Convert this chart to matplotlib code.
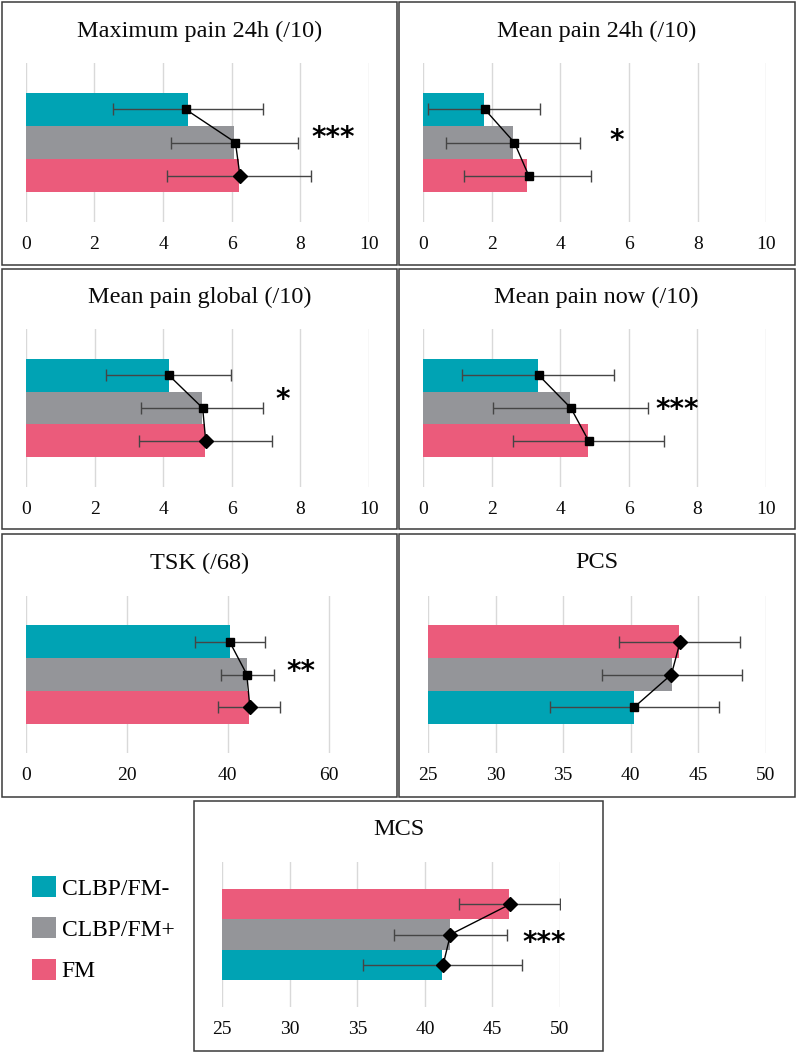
import matplotlib
matplotlib.use("Agg")
import matplotlib.pyplot as plt
from matplotlib.patches import Rectangle, Patch

plt.rcParams['font.family'] = ['Liberation Serif', 'DejaVu Serif']

W, H = 797, 1054

groups = ['CLBP/FM-', 'CLBP/FM+', 'FM']
colors = ['#00A3B4', '#949599', '#EB5B7B']

titles = ['Maximum pain 24h (/10)', 'Mean pain 24h (/10)', 'Mean pain global (/10)',
          'Mean pain now (/10)', 'TSK (/68)', 'PCS', 'MCS']

# group means (bars), in order CLBP/FM-, CLBP/FM+, FM
max_pain_24h = [4.72, 6.08, 6.22]
mean_pain_24h = [1.78, 2.63, 3.04]
mean_pain_global = [4.16, 5.13, 5.22]
mean_pain_now = [3.35, 4.30, 4.82]
tsk = [40.5, 43.9, 44.2]
pcs = [40.25, 43.05, 43.6]
mcs = [41.30, 41.89, 46.26]
bar_means = [max_pain_24h, mean_pain_24h, mean_pain_global, mean_pain_now, tsk, pcs, mcs]

# line-series points
point_means = [[4.66, 6.11, 6.24], [1.80, 2.66, 3.08], [4.16, 5.15, 5.24],
               [3.37, 4.31, 4.83], [40.4, 43.8, 44.4], [40.25, 43.0, 43.65],
               [41.35, 41.89, 46.30]]

# standard deviations
sds = [[2.18, 1.84, 2.10], [1.62, 1.95, 1.85], [1.83, 1.77, 1.94],
       [2.22, 2.27, 2.21], [6.95, 5.2, 6.2], [6.25, 5.2, 4.5], [5.9, 4.2, 3.76]]

markers = [['s', 's', 'D'], ['s', 's', 's'], ['s', 's', 'D'], ['s', 's', 's'],
           ['s', 's', 'D'], ['s', 'D', 'D'], ['D', 'D', 'D']]

# row order (row index of each group, 0 = top)
orders = [[0, 1, 2]] * 5 + [[2, 1, 0], [2, 1, 0]]

xlims = [(0, 10), (0, 10), (0, 10), (0, 10), (0, 68), (25, 50), (25, 50)]
xticks = [[0, 2, 4, 6, 8, 10]] * 4 + [[0, 20, 40, 60], [25, 30, 35, 40, 45, 50], [25, 30, 35, 40, 45, 50]]

sig = ['***', '*', '*', '***', '**', '', '***']
sig_x = [8.96, 5.63, 7.48, 7.41, 54.6, 0, 48.85]
sig_y = [0.85, 0.95, 0.75, 1.05, 0.92, 0, 1.28]

# layout (pixels)
panels = [(2, 2, 396.5, 265), (398.7, 2, 794.7, 265),
          (2, 268.7, 396.5, 529.3), (398.7, 268.7, 794.7, 529.3),
          (2, 534, 396.5, 796.7), (398.7, 534, 794.7, 796.7),
          (194.3, 800.7, 603, 1051)]
axboxes = [(25.7, 63, 369, 222), (423, 63, 766.3, 222),
           (26, 329, 369, 487), (423, 329, 766, 487),
           (25.7, 596, 369, 753), (428, 596, 766, 753),
           (222.3, 862, 560, 1007)]

fig = plt.figure(figsize=(W / 100, H / 100), dpi=100)

for i in range(7):
    px0, py0, px1, py1 = panels[i]
    fig.add_artist(Rectangle((px0 / W, 1 - py1 / H), (px1 - px0) / W, (py1 - py0) / H,
                             transform=fig.transFigure, fill=False,
                             edgecolor='#3a3a3a', linewidth=1.1))
    fig.text(((px0 + px1) / 2) / W, 1 - (py0 + 29) / H, titles[i],
             ha='center', va='center', fontsize=17.5, color='#0a0a0a')

    ax0, ay0, ax1, ay1 = axboxes[i]
    ax = fig.add_axes([ax0 / W, 1 - ay1 / H, (ax1 - ax0) / W, (ay1 - ay0) / H])
    ax.set_facecolor('none')
    pos = orders[i]
    vals = bar_means[i]
    for g in range(3):
        ax.barh(pos[g], vals[g], height=1.0, color=colors[g], zorder=2)
    ax.errorbar(vals, pos, xerr=sds[i], fmt='none', ecolor='#454545',
                elinewidth=1.0, capsize=4.5, capthick=1.0, zorder=3)
    ax.plot(point_means[i], pos, color='black', lw=1.0, zorder=4)
    for g in range(3):
        m = markers[i][g]
        ax.plot(point_means[i][g], pos[g], marker=m, color='black',
                markersize=5.8 if m == 's' else 7.0, linestyle='none', zorder=5)
    if sig[i]:
        ax.text(sig_x[i], sig_y[i], sig[i], ha='center', va='center',
                fontsize=20, fontweight='bold', family='DejaVu Sans', zorder=6)
    ax.set_xlim(*xlims[i])
    ax.set_ylim(3.4, -1.4)
    ax.set_xticks(xticks[i])
    ax.set_yticks([])
    ax.grid(axis='x', color='#d9d9d9', linewidth=1.0, zorder=0)
    ax.set_axisbelow(True)
    for s in ax.spines.values():
        s.set_visible(False)
    ax.tick_params(axis='x', length=0, pad=10, labelsize=14, labelcolor='#0a0a0a')

handles = [Patch(facecolor=c, edgecolor='none') for c in colors]
fig.legend(handles, groups, loc='upper left', bbox_to_anchor=(32 / W, 1 - 876 / H),
           frameon=False, fontsize=17, handlelength=1.0, handleheight=1.0,
           handletextpad=0.25, labelspacing=0.75, borderpad=0, borderaxespad=0)

fig.savefig('out.png', dpi=100)
